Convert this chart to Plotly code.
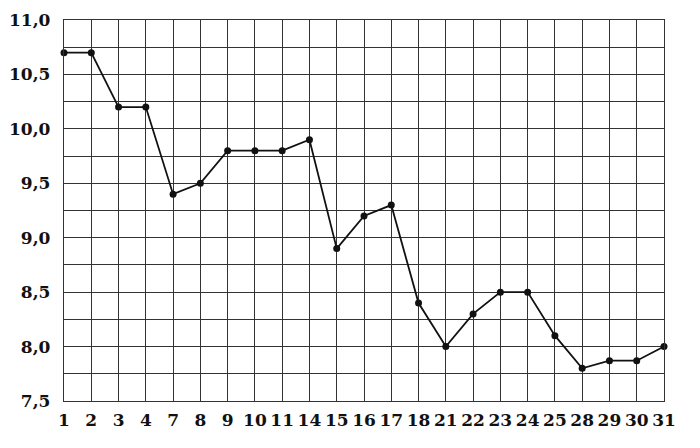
import plotly.graph_objects as go

days = ["1", "2", "3", "4", "7", "8", "9", "10", "11", "14", "15", "16",
        "17", "18", "21", "22", "23", "24", "25", "28", "29", "30", "31"]
values = [10.7, 10.7, 10.2, 10.2, 9.4, 9.5, 9.8, 9.8, 9.8, 9.9, 8.9, 9.2,
          9.3, 8.4, 8.0, 8.3, 8.5, 8.5, 8.1, 7.8, 7.87, 7.87, 8.0]
y_grid = [7.5, 7.75, 8.0, 8.25, 8.5, 8.75, 9.0, 9.25, 9.5, 9.75,
          10.0, 10.25, 10.5, 10.75, 11.0]
y_labels = ["7,5", "", "8,0", "", "8,5", "", "9,0", "", "9,5", "",
            "10,0", "", "10,5", "", "11,0"]

fig = go.Figure()
fig.add_trace(go.Scatter(
    x=list(range(len(days))), y=values, mode="lines+markers",
    line=dict(color="#111111", width=1.8),
    marker=dict(color="#111111", size=7),
    showlegend=False, cliponaxis=False,
))

font = dict(family="DejaVu Serif, serif", size=17, color="#111111")

fig.update_layout(
    width=692, height=440,
    margin=dict(l=56, r=36, t=12, b=47, autoexpand=False),
    paper_bgcolor="white", plot_bgcolor="white",
    font=font,
    xaxis=dict(
        range=[0, len(days) - 1], automargin=False,
        tickvals=list(range(len(days))), ticktext=["<b>%s</b>" % d for d in days],
        showgrid=True, gridcolor="#333333", gridwidth=1.3,
        showline=True, linecolor="#333333", linewidth=1.3, mirror=True,
        zeroline=False, ticks="", ticklabelstandoff=3,
    ),
    yaxis=dict(
        range=[7.5, 11.0], automargin=False,
        tickvals=y_grid, ticktext=["<b>%s</b>" % t if t else "" for t in y_labels],
        showgrid=True, gridcolor="#333333", gridwidth=1.3,
        showline=True, linecolor="#333333", linewidth=1.3, mirror=True,
        zeroline=False, ticks="", ticklabelstandoff=9,
    ),
)

fig.write_html("out.html")
